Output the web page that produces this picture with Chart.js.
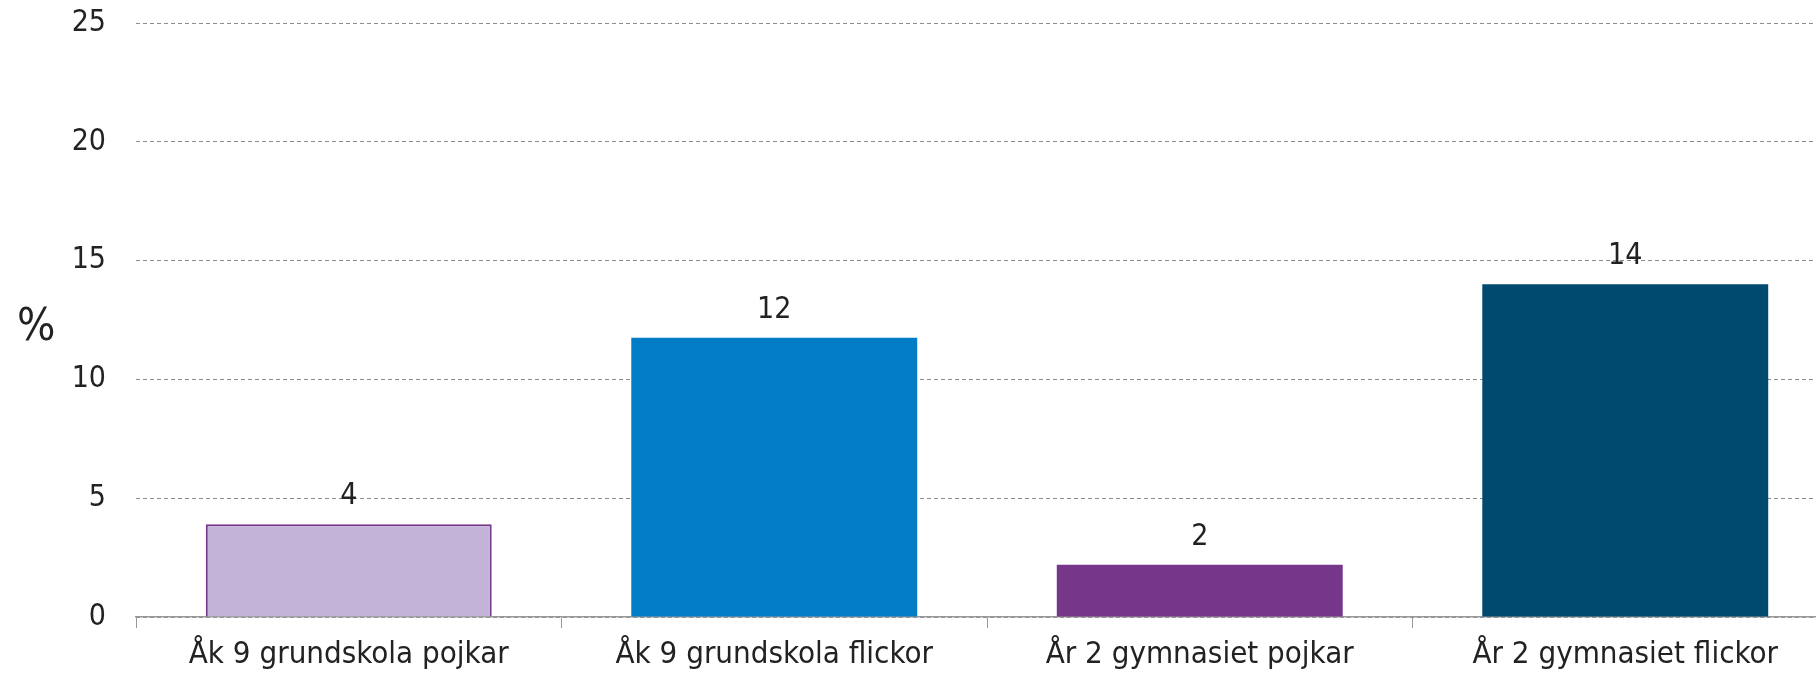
<!DOCTYPE html>
<html>
<head>
<meta charset="utf-8">
<script src="https://cdn.jsdelivr.net/npm/chart.js@4"></script>
<style>
  html, body { margin: 0; padding: 0; background: #fff; overflow: hidden; }
  #wrap { width: 1838px; height: 703px; margin-top: -25px; }
</style>
</head>
<body>
<div id="wrap"><canvas id="chart"></canvas></div>
<script>
const categories = ['Åk 9 grundskola pojkar', 'Åk 9 grundskola flickor', 'År 2 gymnasiet pojkar', 'År 2 gymnasiet flickor'];
const values = [3.9, 11.75, 2.2, 14.0];
const valueLabels = ['4', '12', '2', '14'];
const fillColors = ['#C3B3D8', '#007DC6', '#76368A', '#00496F'];
const borderColors = ['#76368A', '#007DC6', '#76368A', '#00496F'];
const yTicks = [0, 5, 10, 15, 20, 25];
const yTitle = '%';

const FONT = '"DejaVu Sans Condensed", "DejaVu Sans", sans-serif';

// value labels above bars + the horizontal "%" title
const extras = {
  id: 'extras',
  afterDatasetsDraw(chart) {
    const ctx = chart.ctx;
    const meta = chart.getDatasetMeta(0);
    ctx.save();
    ctx.font = '30px ' + FONT;
    ctx.fillStyle = '#222';
    ctx.textAlign = 'center';
    ctx.textBaseline = 'middle';
    meta.data.forEach((bar, i) => {
      ctx.fillText(valueLabels[i], bar.x, bar.y - 28);
    });
    const ys = chart.scales.y;
    ctx.font = '45px ' + FONT;
    ctx.textAlign = 'left';
    ctx.fillText(yTitle, 17, (ys.top + ys.bottom) / 2 + 8);
    ctx.restore();
  }
};

new Chart(document.getElementById('chart'), {
  type: 'bar',
  data: {
    labels: categories,
    datasets: [{
      data: values,
      backgroundColor: fillColors,
      borderColor: borderColors,
      borderWidth: [2, 0, 0, 0],
      barPercentage: 0.672,
      categoryPercentage: 1
    }]
  },
  options: {
    responsive: true,
    maintainAspectRatio: false,
    animation: false,
    plugins: { legend: { display: false }, tooltip: { enabled: false } },
    scales: {
      x: {
        grid: { display: true, drawOnChartArea: false, offset: true, tickLength: 11, color: '#999' },
        border: { display: true, color: '#999', width: 1.5 },
        ticks: { color: '#222', font: { family: FONT, size: 31 }, padding: 8, maxRotation: 0 },
        afterFit(s) { s.height = 61; }
      },
      y: {
        min: 0, max: 25,
        afterBuildTicks(s) { s.ticks = yTicks.map(v => ({ value: v })); },
        grid: { color: '#8c8c8c', lineWidth: 1, drawTicks: false },
        border: { display: false, dash: [4, 3] },
        ticks: { color: '#222', font: { family: FONT, size: 30 }, padding: 30 },
        afterFit(s) { s.width = 136; }
      }
    }
  },
  plugins: [extras]
});
</script>
</body>
</html>
